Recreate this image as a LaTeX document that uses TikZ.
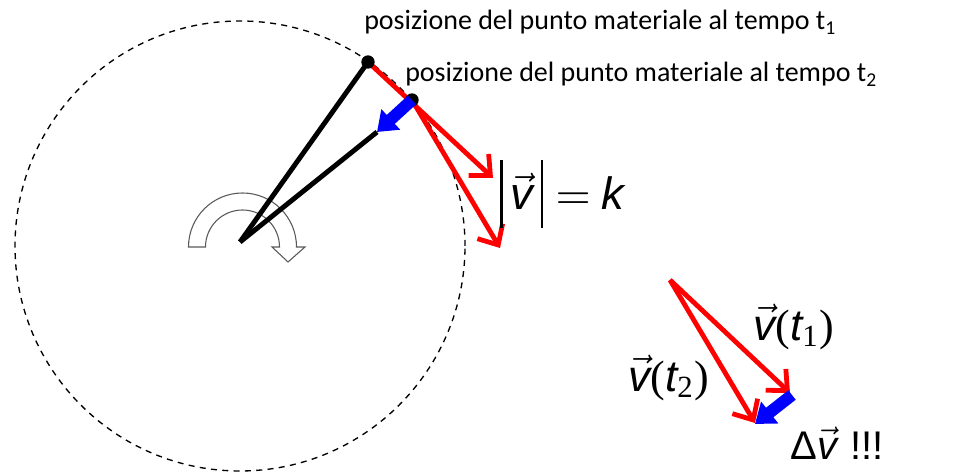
\documentclass[tikz,border=0pt]{standalone}
\usepackage{amsmath}
\usepackage{fontspec}
\setmainfont{Carlito}
\newfontfamily\sv{Liberation Sans}
\newfontfamily\tms{Liberation Serif}
\usetikzlibrary{arrows.meta}
\newcommand\myvv{\vec{\text{\sv\itshape v}}}
\newcommand\mybar{\vrule width 0.55pt height 11pt depth 4pt}
\begin{document}
\begin{tikzpicture}[x=0.75pt,y=0.75pt,
  radline/.style={line width=3.7pt, black},
  vel/.style={red, line width=3.6pt, -{Straight Barb[length=12pt,width=22pt]}},
  dv/.style={blue, line width=9pt, -{Triangle[length=14pt,width=20pt]}},
  dot/.style={circle, fill=black, inner sep=0pt, minimum size=10pt},
  lbl/.style={font=\fontsize{21}{24}\selectfont, anchor=base west, inner sep=0pt},
  orbit/.style={dash pattern=on 4.5pt off 4pt, line width=1pt},
  hollow/.style={draw=gray!70!black, line width=0.8pt, fill=white},
  ]
\useasboundingbox (0,0) rectangle (955,473);

\draw[orbit] (240,227) circle[radius=225];

\draw[hollow] (188.5,226) arc[start angle=180,end angle=0,radius=54]
  -- (305,226) -- (288,211) -- (272,226) -- (279.5,226)
  arc[start angle=0,end angle=180,radius=37] -- cycle;

\coordinate (O) at (240,231);
\coordinate (P1) at (368,411);
\coordinate (P2) at (412,373);
\coordinate (A) at (377,341);
\coordinate (R1) at (493,295);
\coordinate (R2) at (500,225);

\draw[radline] (O) -- (P1);
\draw[radline] (O) -- (A);
\draw[vel] (P1) -- (R1);
\draw[vel] (P2) -- (R2);
\node[dot] (d1) at (P1) {};
\node[dot] (d2) at (P2) {};
\draw[dv] (P2) -- (A);

\coordinate (Q) at (670,193);
\coordinate (T1) at (792,78);
\coordinate (T2) at (755,49);
\draw[vel] (Q) -- (790,80);
\draw[vel] (Q) -- (755,50);
\draw[dv] (T1) -- (T2);

\node[lbl] (l1) at (364,443) {posizione del punto materiale al tempo t\textsubscript{1}};
\node[lbl] (l2) at (405,391) {posizione del punto materiale al tempo t\textsubscript{2}};

\node[scale=3.4] (mag) at (562,279) {$\mybar\,\myvv\,\mybar\mskip5mu{=}\mskip4mu\text{\sv\itshape k}$};
\node[scale=3.3] (vt1) at (794,146) {$\myvv\text{\tms (}\text{\sv\itshape t}_{\text{\tms 1}}\text{\tms )}$};
\node[scale=3.3] (vt2) at (669,95) {$\myvv\text{\tms (}\text{\sv\itshape t}_{\text{\tms 2}}\text{\tms )}$};
\node[scale=3.0] (dvl) at (837,30) {$\text{\sv Δ}\myvv\text{\sv\,\,!!!}$};
\end{tikzpicture}
\end{document}
